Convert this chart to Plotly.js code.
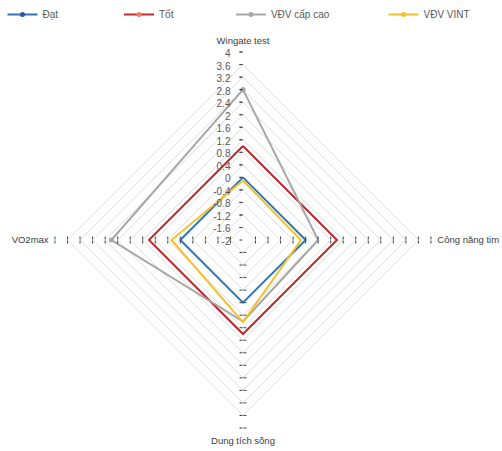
<!DOCTYPE html>
<html>
<head>
<meta charset="utf-8">
<script src="https://cdn.plot.ly/plotly-3.0.1.min.js"></script>
<style>html,body{margin:0;padding:0;background:#fff;}#chart{width:502px;height:451px;}</style>
</head>
<body>
<div id="chart"></div>
<script>
const categories = ['Wingate test', 'Công năng tim', 'Dung tích sống', 'VO2max'];
const seriesNames = ['Đạt', 'Tốt', 'VĐV cấp cao', 'VĐV VINT'];
const datVals = [0, 0, 0, 0];
const totVals = [1, 1, 1, 1];
const capCaoVals = [2.8, 0.4, 0.6, 2.2];
const vintVals = [-0.1, -0.15, 0.62, 0.28];
const radialTickVals = [-2, -1.6, -1.2, -0.8, -0.4, 0, 0.4, 0.8, 1.2, 1.6, 2, 2.4, 2.8, 3.2, 3.6, 4];
const radialTickText = ['-2', '-1.6', '-1.2', '-0.8', '-0.4', '0', '0.4', '0.8', '1.2', '1.6', '2', '2.4', '2.8', '3.2', '3.6', '4'];

const lineColors = ['#2E75B6', '#C0282B', '#A6A6A6', '#F5C02C'];
const markerColors = ['#2F5597', '#F07F5F', '#A6A6A6', '#F5C02C'];
const allVals = [datVals, totVals, capCaoVals, vintVals];
const legendX = [0.005, 0.237, 0.46, 0.764];

const close = a => a.concat([a[0]]);
const font = 'Liberation Sans, Arial, sans-serif';

const traces = allVals.map((vals, i) => ({
  type: 'scatterpolar',
  mode: 'lines+markers',
  r: close(vals),
  theta: close(categories),
  name: seriesNames[i],
  line: {color: lineColors[i], width: 2},
  marker: {color: markerColors[i], size: 5},
  legend: i === 0 ? 'legend' : 'legend' + (i + 1),
  subplot: 'polar',
  hoverinfo: 'skip'
}));

// centre (243,240), radius ~185 px
const dom = {x: [0.1095, 0.8585], y: [0.0510, 0.8846]};

function baseAngular(visible) {
  return {
    type: 'category',
    categoryarray: categories,
    rotation: 90,
    direction: 'clockwise',
    showgrid: false,
    showline: false,
    ticks: visible ? 'outside' : '',
    ticklen: 4,
    tickcolor: 'rgba(0,0,0,0)',
    showticklabels: visible,
    tickfont: {family: font, size: 9.5, color: '#404040'},
    visible: visible
  };
}

const layout = {
  width: 502,
  height: 451,
  margin: {l: 0, r: 0, t: 0, b: 0},
  paper_bgcolor: '#ffffff',
  font: {family: font, size: 10, color: '#595959'},
  showlegend: true,
  polar: {
    domain: dom,
    gridshape: 'linear',
    bgcolor: 'rgba(0,0,0,0)',
    angularaxis: baseAngular(true),
    radialaxis: {
      range: [-2, 4],
      angle: 90,
      tickvals: radialTickVals,
      ticktext: radialTickText,
      showgrid: true,
      gridcolor: '#DCDCDC',
      gridwidth: 1,
      showline: false,
      ticks: 'outside',
      ticklen: 3,
      tickcolor: '#404040',
      tickfont: {family: font, size: 10, color: '#595959'},
      side: 'counterclockwise'
    }
  }
};

// extra overlays for tick marks on each spoke (cross ticks)
const tickSpecs = [
  {angle: 90, ticks: 'inside'},
  {angle: 0, ticks: 'outside'}, {angle: 0, ticks: 'inside'},
  {angle: 180, ticks: 'outside'}, {angle: 180, ticks: 'inside'},
  {angle: 270, ticks: 'outside'}, {angle: 270, ticks: 'inside'}
];
tickSpecs.forEach((s, k) => {
  const name = 'polar' + (k + 2);
  layout[name] = {
    domain: dom,
    gridshape: 'linear',
    bgcolor: 'rgba(0,0,0,0)',
    angularaxis: baseAngular(false),
    radialaxis: {
      range: [-2, 4],
      angle: s.angle,
      tickvals: radialTickVals.slice(1),
      showticklabels: false,
      showgrid: false,
      showline: false,
      ticks: s.ticks,
      ticklen: 3,
      tickcolor: '#404040'
    }
  };
  traces.unshift({
    type: 'scatterpolar', mode: 'markers', r: [], theta: [],
    subplot: name, showlegend: false, hoverinfo: 'skip'
  });
});

for (let i = 0; i < 4; i++) {
  const key = i === 0 ? 'legend' : 'legend' + (i + 1);
  layout[key] = {
    x: legendX[i], y: 1.0, xanchor: 'left', yanchor: 'top',
    orientation: 'h',
    bgcolor: 'rgba(0,0,0,0)',
    itemwidth: 30,
    font: {family: font, size: 10, color: '#595959'}
  };
}

Plotly.newPlot('chart', traces, layout, {displayModeBar: false, staticPlot: true});
</script>
</body>
</html>
